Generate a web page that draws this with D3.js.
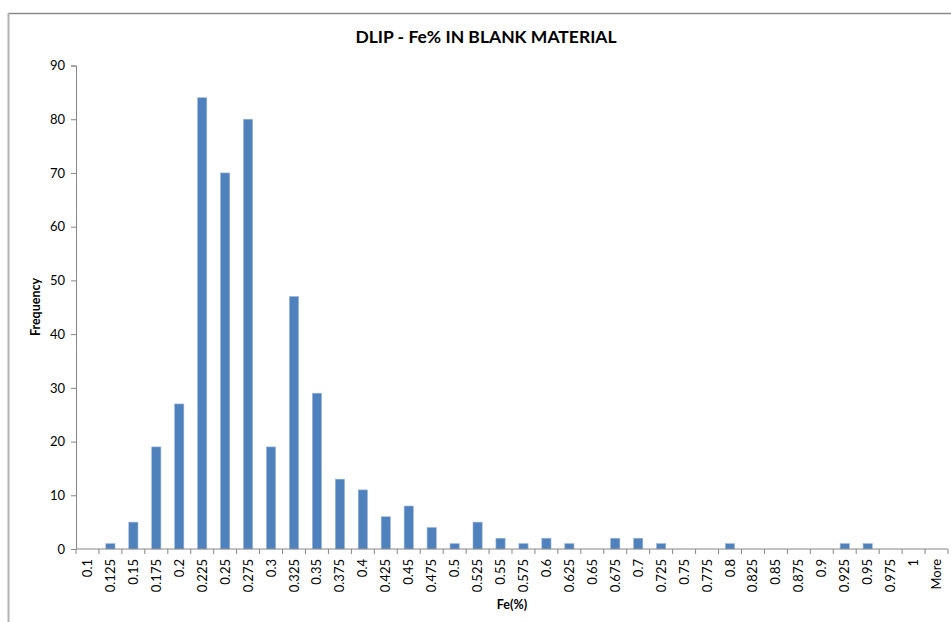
<!DOCTYPE html>
<html>
<head>
<meta charset="utf-8">
<script src="https://cdn.jsdelivr.net/npm/d3@7"></script>
<style>
  body { margin: 0; background: #fff; }
  svg { display: block; }
  text { font-family: Lato, "Liberation Sans", sans-serif; fill: #000; }
</style>
</head>
<body>
<svg id="chart" width="951" height="622"></svg>
<script>
const categories = ["0.1","0.125","0.15","0.175","0.2","0.225","0.25","0.275","0.3","0.325",
  "0.35","0.375","0.4","0.425","0.45","0.475","0.5","0.525","0.55","0.575",
  "0.6","0.625","0.65","0.675","0.7","0.725","0.75","0.775","0.8","0.825",
  "0.85","0.875","0.9","0.925","0.95","0.975","1","More"];
const frequency = [0,1,5,19,27,84,70,80,19,47,
  29,13,11,6,8,4,1,5,2,1,
  2,1,0,2,2,1,0,0,1,0,
  0,0,0,1,1,0,0,0];
const yTicks = [0,10,20,30,40,50,60,70,80,90];
const title = "DLIP - Fe% IN BLANK MATERIAL";
const xTitle = "Fe(%)";
const yTitle = "Frequency";

(function () {
const svg = d3.select("#chart");
const pL = 76, pR = 948, pT = 65.5, pB = 549;

// chart frame
svg.append("line").attr("x1", 8).attr("x2", 951).attr("y1", 13.5).attr("y2", 13.5)
  .attr("stroke", "#8a8a8a").attr("stroke-width", 1.5);
svg.append("line").attr("x1", 8.5).attr("x2", 8.5).attr("y1", 13).attr("y2", 622)
  .attr("stroke", "#b4b4b4").attr("stroke-width", 2);

const x = d3.scaleBand().domain(categories).range([pL, pR]).paddingInner(0.6).paddingOuter(0.3);
const xb = d3.scaleBand().domain(categories).range([pL, pR]);
const y = d3.scaleLinear().domain([0, 90]).range([pB, pT]);

// bars
svg.append("g").selectAll("rect").data(categories).join("rect")
  .attr("x", d => x(d))
  .attr("width", x.bandwidth())
  .attr("y", (d, i) => y(frequency[i]))
  .attr("height", (d, i) => y(0) - y(frequency[i]))
  .attr("fill", "#4f81bd")
  .attr("stroke", "#9bb5d8")
  .attr("stroke-width", 0.6);

// y axis
const yAxis = d3.axisLeft(y).tickValues(yTicks).tickSize(5).tickPadding(6);
const gy = svg.append("g").attr("transform", `translate(${pL},0)`).call(yAxis);
gy.select(".domain").attr("stroke", "#868686");
gy.selectAll(".tick line").attr("stroke", "#868686");
gy.selectAll(".tick text").style("font-size", "13px").style("font-family", "Lato, 'Liberation Sans', sans-serif");

// x axis: line + ticks at category boundaries
const gx = svg.append("g");
gx.append("line").attr("x1", pL).attr("x2", pR).attr("y1", pB).attr("y2", pB)
  .attr("stroke", "#868686");
const bounds = categories.map(c => xb(c)).concat([pR]);
gx.selectAll("line.t").data(bounds).join("line").attr("class", "t")
  .attr("x1", d => d).attr("x2", d => d).attr("y1", pB).attr("y2", pB + 5)
  .attr("stroke", "#868686");
gx.selectAll("text").data(categories).join("text")
  .attr("transform", d => `translate(${xb(d) + xb.bandwidth() / 2 + 4.5},${pB + 10}) rotate(-90)`)
  .attr("text-anchor", "end")
  .style("font-size", "13px")
  .text(d => d);

// titles
svg.append("text").attr("x", 486).attr("y", 43).attr("text-anchor", "middle")
  .style("font-size", "17.5px").style("font-weight", "bold").text(title);
svg.append("text").attr("x", 512).attr("y", 609).attr("text-anchor", "middle")
  .style("font-size", "12.5px").style("font-weight", "bold").text(xTitle);
svg.append("text").attr("transform", "translate(40,307) rotate(-90)").attr("text-anchor", "middle")
  .style("font-size", "12.5px").style("font-weight", "bold").text(yTitle);
})();
</script>
</body>
</html>
